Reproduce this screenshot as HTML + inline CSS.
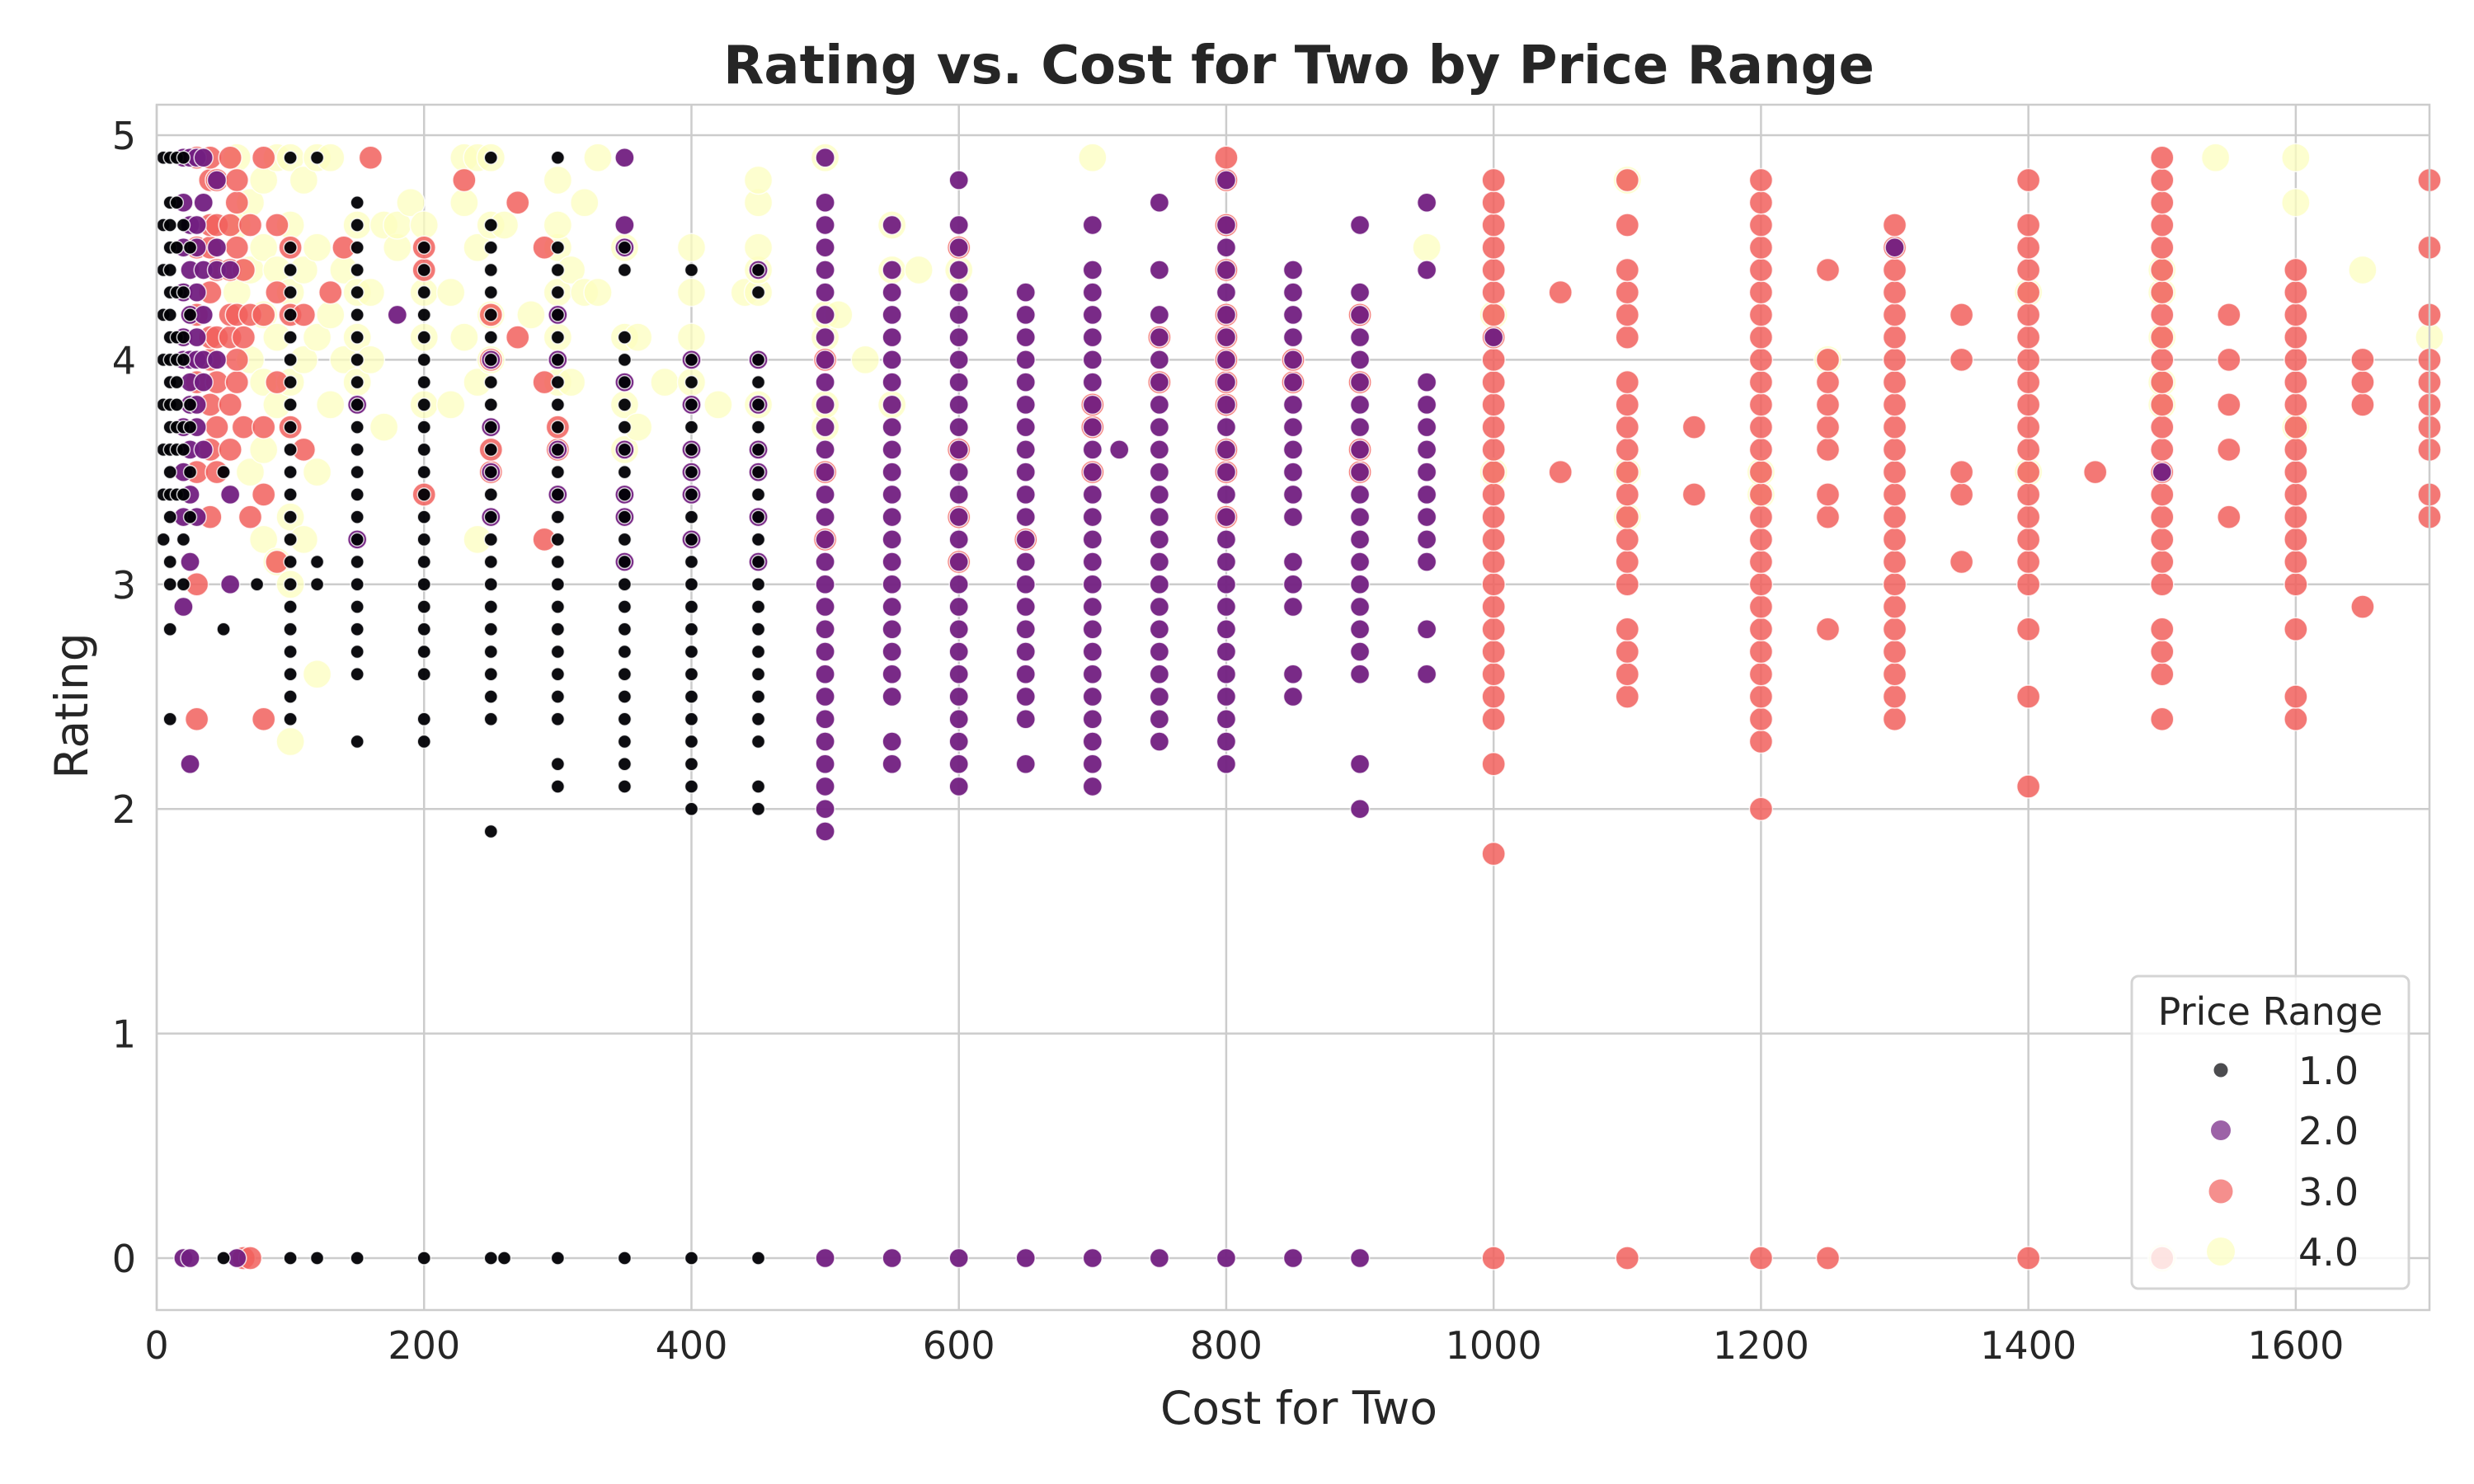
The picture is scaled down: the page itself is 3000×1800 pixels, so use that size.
<!DOCTYPE html>
<html><head><meta charset="utf-8">
<style>
html,body{margin:0;padding:0;background:#fff;}
svg{display:block;font-family:"DejaVu Sans","Liberation Sans",sans-serif;}
</style></head>
<body>
<svg id="chart" width="3000" height="1800" viewBox="0 0 3000 1800" xmlns="http://www.w3.org/2000/svg">
<rect width="3000" height="1800" fill="#fff"/>
<g id="grid"></g>
<g id="points"></g>
<rect x="190" y="127" width="2756" height="1462" fill="none" stroke="#cccccc" stroke-width="2.5"/>
<g id="ticks" font-size="46" fill="#262626"></g>
<text x="1575" y="101" text-anchor="middle" font-size="64" font-weight="bold" fill="#262626">Rating vs. Cost for Two by Price Range</text>
<text x="1575" y="1727" text-anchor="middle" font-size="55" fill="#262626">Cost for Two</text>
<text transform="translate(106,856) rotate(-90)" text-anchor="middle" font-size="55" fill="#262626">Rating</text>
<g>
<rect x="2585" y="1184" width="336" height="379" rx="8" fill="#ffffff" fill-opacity="0.8" stroke="#d4d4d4" stroke-width="3"/>
<text x="2753" y="1243" text-anchor="middle" font-size="46" fill="#262626">Price Range</text>
<g id="legend-entries"></g>
</g>
</svg>
<script>
// ---- data ----
const xTicks = [0,200,400,600,800,1000,1200,1400,1600];
const yTicks = [0,1,2,3,4,5];
const priceLabels = ["1.0","2.0","3.0","4.0"];
// columns: [cost, "ratings"]
const p1Data = [
 [5,"3.2,3.4,3.6,3.8,4.0,4.2,4.4,4.6,4.9"],[10,"2.4,2.8,3.0,3.1,3.3,3.4,3.5,3.6,3.7,3.8,3.9,4.0,4.1,4.2,4.3,4.4,4.5,4.6,4.7,4.9"],
 [15,"3.4,3.6,3.7,3.8,3.9,4.0,4.1,4.3,4.5,4.7,4.9"],[20,"3.0,3.2,3.4,3.6,3.7,4.0,4.1,4.3,4.6,4.9"],[25,"3.3,3.5,3.7,3.8,4.2,4.5"],
 [50,"2.8,3.5,0"],[75,"3.0"],
 [100,"0,2.4,2.5,2.6,2.7,2.8,2.9,3.0,3.1,3.2,3.3,3.4,3.5,3.6,3.7,3.8,3.9,4.0,4.1,4.2,4.3,4.4,4.5,4.9"],
 [120,"0,3.0,3.1,4.9"],
 [150,"0,2.3,2.6,2.7,2.8,2.9,3.0,3.1,3.2,3.3,3.4,3.5,3.6,3.7,3.8,3.9,4.0,4.1,4.2,4.3,4.4,4.5,4.6,4.7"],
 [200,"0,2.3,2.4,2.6,2.7,2.8,2.9,3.0,3.1,3.2,3.3,3.4,3.5,3.6,3.7,3.8,3.9,4.0,4.1,4.2,4.3,4.4,4.5"],
 [250,"0,1.9,2.4,2.5,2.6,2.7,2.8,2.9,3.0,3.1,3.2,3.3,3.4,3.5,3.6,3.7,3.8,3.9,4.0,4.1,4.2,4.3,4.4,4.5,4.6,4.9"],
 [260,"0"],
 [300,"0,2.1,2.2,2.4,2.5,2.6,2.7,2.8,2.9,3.0,3.1,3.2,3.3,3.4,3.5,3.6,3.7,3.8,3.9,4.0,4.1,4.2,4.3,4.4,4.5,4.9"],
 [350,"0,2.1,2.2,2.3,2.4,2.5,2.6,2.7,2.8,2.9,3.0,3.1,3.2,3.3,3.4,3.5,3.6,3.7,3.8,3.9,4.0,4.1,4.4,4.5"],
 [400,"0,2.0,2.1,2.2,2.3,2.4,2.5,2.6,2.7,2.8,2.9,3.0,3.1,3.2,3.3,3.4,3.5,3.6,3.7,3.8,3.9,4.0,4.4"],
 [450,"0,2.0,2.1,2.3,2.4,2.5,2.6,2.7,2.8,2.9,3.0,3.1,3.2,3.3,3.4,3.5,3.6,3.7,3.8,3.9,4.0,4.3,4.4"]
];
const p2Data = [
 [20,"0,2.9,3.3,3.5,3.7,4.0,4.1,4.3,4.5,4.7,4.9"],[25,"0,2.2,3.1,3.4,3.6,3.8,3.9,4.0,4.2,4.4,4.6,4.9"],[30,"3.3,3.7,3.8,4.0,4.1,4.3,4.5,4.6,4.9"],
 [35,"3.6,3.9,4.0,4.2,4.4,4.7,4.9"],[45,"4.0,4.4,4.5,4.8"],[55,"3.0,3.4,4.4"],[60,"0"],
 [150,"3.2,3.8"],[180,"4.2"],[250,"3.3,3.5,3.7,4.0"],[300,"3.4,3.6,4.0,4.2"],[350,"3.1,3.3,3.4,3.6,3.9,4.5,4.6,4.9"],[400,"3.2,3.4,3.5,3.6,3.8,4.0"],
 [450,"3.1,3.3,3.5,3.6,3.8,4.0,4.4"],
 [500,"0,1.9,2.0,2.1,2.2,2.3,2.4,2.5,2.6,2.7,2.8,2.9,3.0,3.1,3.2,3.3,3.4,3.5,3.6,3.7,3.8,3.9,4.0,4.1,4.2,4.3,4.4,4.5,4.6,4.7,4.9"],
 [550,"0,2.2,2.3,2.5,2.6,2.7,2.8,2.9,3.0,3.1,3.2,3.3,3.4,3.5,3.6,3.7,3.8,3.9,4.0,4.1,4.2,4.3,4.4,4.6"],
 [600,"0,2.1,2.2,2.3,2.4,2.5,2.6,2.7,2.8,2.9,3.0,3.1,3.2,3.3,3.4,3.5,3.6,3.7,3.8,3.9,4.0,4.1,4.2,4.3,4.4,4.5,4.6,4.8"],
 [650,"0,2.2,2.4,2.5,2.6,2.7,2.8,2.9,3.0,3.1,3.2,3.3,3.4,3.5,3.6,3.7,3.8,3.9,4.0,4.1,4.2,4.3"],
 [700,"0,2.1,2.2,2.3,2.4,2.5,2.6,2.7,2.8,2.9,3.0,3.1,3.2,3.3,3.4,3.5,3.6,3.7,3.8,3.9,4.0,4.1,4.2,4.3,4.4,4.6"],
 [720,"3.6"],
 [750,"0,2.3,2.4,2.5,2.6,2.7,2.8,2.9,3.0,3.1,3.2,3.3,3.4,3.5,3.6,3.7,3.8,3.9,4.0,4.1,4.2,4.4,4.7"],
 [800,"0,2.2,2.3,2.4,2.5,2.6,2.7,2.8,2.9,3.0,3.1,3.2,3.3,3.4,3.5,3.6,3.7,3.8,3.9,4.0,4.1,4.2,4.3,4.4,4.5,4.6,4.8"],
 [850,"0,2.5,2.6,2.9,3.0,3.1,3.3,3.4,3.5,3.6,3.7,3.8,3.9,4.0,4.1,4.2,4.3,4.4"],
 [900,"0,2.0,2.2,2.6,2.7,2.8,2.9,3.0,3.1,3.2,3.3,3.4,3.5,3.6,3.7,3.8,3.9,4.0,4.1,4.2,4.3,4.6"],
 [950,"2.6,2.8,3.1,3.2,3.3,3.4,3.5,3.6,3.7,3.8,3.9,4.4,4.7"],[1000,"4.1"],[1300,"4.5"],[1500,"3.5"]
];
const p3Data = [
 [30,"2.4,3.0,3.5,3.9,4.2,4.5,4.9"],[40,"3.3,3.6,3.8,4.0,4.1,4.3,4.5,4.6,4.8,4.9"],[45,"3.5,3.7,3.9,4.1,4.4,4.6,4.8"],
 [55,"3.6,3.8,4.1,4.2,4.4,4.6,4.9"],[60,"3.9,4.0,4.2,4.5,4.7,4.8"],[65,"0,3.7,4.1,4.4"],[70,"0,3.3,4.2,4.6"],
 [80,"2.4,3.4,3.7,4.2,4.9"],[90,"3.1,3.9,4.3,4.6"],[100,"3.7,4.2,4.5"],[110,"3.6,4.2"],[130,"4.3"],[140,"4.5"],
 [160,"4.9"],[200,"3.4,4.4,4.5"],[230,"4.8"],[250,"3.5,3.6,4.0,4.2"],[270,"4.1,4.7"],[290,"3.2,3.9,4.5"],[300,"3.6,3.7"],
 [500,"3.2,3.5,4.0"],[600,"3.1,3.3,3.6,4.5"],[650,"3.2"],[700,"3.5,3.7,3.8"],[750,"3.9,4.1"],
 [800,"3.3,3.5,3.6,3.8,3.9,4.0,4.1,4.2,4.4,4.6,4.8,4.9"],[850,"3.9,4.0"],[900,"3.5,3.6,3.9,4.2"],
 [1000,"0,1.8,2.2,2.4,2.5,2.6,2.7,2.8,2.9,3.0,3.1,3.2,3.3,3.4,3.5,3.6,3.7,3.8,3.9,4.0,4.1,4.2,4.3,4.4,4.5,4.6,4.7,4.8"],
 [1050,"3.5,4.3"],
 [1100,"0,2.5,2.6,2.7,2.8,3.0,3.1,3.2,3.3,3.4,3.5,3.6,3.7,3.8,3.9,4.1,4.2,4.3,4.4,4.6,4.8"],
 [1150,"3.4,3.7"],
 [1200,"0,2.0,2.3,2.4,2.5,2.6,2.7,2.8,2.9,3.0,3.1,3.2,3.3,3.4,3.5,3.6,3.7,3.8,3.9,4.0,4.1,4.2,4.3,4.4,4.5,4.6,4.7,4.8"],
 [1250,"0,2.8,3.3,3.4,3.6,3.7,3.8,3.9,4.0,4.4"],
 [1300,"2.4,2.5,2.6,2.7,2.8,2.9,3.0,3.1,3.2,3.3,3.4,3.5,3.6,3.7,3.8,3.9,4.0,4.1,4.2,4.3,4.4,4.5,4.6"],
 [1350,"3.1,3.4,3.5,4.0,4.2"],
 [1400,"0,2.1,2.5,2.8,3.0,3.1,3.2,3.3,3.4,3.5,3.6,3.7,3.8,3.9,4.0,4.1,4.2,4.3,4.4,4.5,4.6,4.8"],
 [1450,"3.5"],
 [1500,"0,2.4,2.6,2.7,2.8,3.0,3.1,3.2,3.3,3.4,3.5,3.6,3.7,3.8,3.9,4.0,4.1,4.2,4.3,4.4,4.5,4.6,4.7,4.8,4.9"],
 [1550,"3.3,3.6,3.8,4.0,4.2"],
 [1600,"2.4,2.5,2.8,3.0,3.1,3.2,3.3,3.4,3.5,3.6,3.7,3.8,3.9,4.0,4.1,4.2,4.3,4.4"],
 [1650,"2.9,3.8,3.9,4.0"],
 [1700,"3.3,3.4,3.6,3.7,3.8,3.9,4.0,4.2,4.5,4.8"]
];
const p4Data = [
 [60,"4.3,4.6,4.9"],[70,"3.5,4.0,4.4,4.7"],[80,"3.2,3.6,3.9,4.2,4.5,4.8"],[90,"3.1,3.8,4.1,4.4,4.9"],[100,"2.3,3.0,3.3,3.9,4.3,4.6,4.9"],
 [110,"3.2,4.0,4.4,4.8"],[120,"2.6,3.5,4.1,4.5,4.9"],[130,"3.8,4.2,4.9"],[140,"4.0,4.4"],[150,"3.9,4.1,4.3,4.6"],
 [160,"4.0,4.3"],[170,"3.7,4.6"],[180,"4.5,4.6"],[190,"4.7"],[200,"3.8,4.1,4.3,4.6"],[220,"3.8,4.3"],[230,"4.1,4.7,4.9"],
 [240,"3.2,3.9,4.5,4.9"],[250,"4.0,4.2,4.6,4.9"],[260,"4.6"],[280,"4.2"],[300,"3.9,4.1,4.3,4.5,4.6,4.8"],
 [310,"3.9,4.4"],[320,"4.3,4.7"],[330,"4.3,4.9"],[350,"3.6,3.8,4.1,4.5"],[360,"3.7,4.1"],[380,"3.9"],[400,"3.9,4.1,4.3,4.5"],
 [420,"3.8"],[440,"4.3"],[450,"3.8,4.3,4.4,4.5,4.7,4.8"],[500,"3.7,3.8,4.1,4.2,4.9"],[510,"4.2"],[530,"4.0"],[550,"3.8,4.4,4.6"],
 [570,"4.4"],[600,"4.4"],[700,"4.9"],[950,"4.5"],[1000,"3.5,4.2"],[1100,"3.3,3.5,4.8"],[1200,"3.4,3.5"],[1250,"4.0"],
 [1400,"3.5,4.3"],[1500,"0,3.8,3.9,4.1,4.3,4.4"],[1540,"4.9"],[1600,"3.7,4.7,4.9"],[1650,"4.4"],[1700,"4.1"]
];
// ---- scales ----
const X0=190, X1=2946, XMAX=1700, Y0=1526, YU=272.4;
function xs(v){return X0+(v/XMAX)*(X1-X0);}
function ys(v){return Y0-v*YU;}
const NS="http://www.w3.org/2000/svg";
const grid=document.getElementById('grid'), ticks=document.getElementById('ticks'), pts=document.getElementById('points');
xTicks.forEach(t=>{
  const l=document.createElementNS(NS,'line');
  
  
  l.setAttribute('x1',xs(t));l.setAttribute('x2',xs(t));l.setAttribute('y1',127);l.setAttribute('y2',1589);
  l.setAttribute('stroke','#cccccc');l.setAttribute('stroke-width','2.5');grid.appendChild(l);
  const tx=document.createElementNS(NS,'text');
  
  
  tx.setAttribute('x',xs(t));tx.setAttribute('y',1648);tx.setAttribute('text-anchor','middle');tx.textContent=t;ticks.appendChild(tx);
});
yTicks.forEach(t=>{
  const l=document.createElementNS(NS,'line');
  
  
  l.setAttribute('x1',190);l.setAttribute('x2',2946);l.setAttribute('y1',ys(t));l.setAttribute('y2',ys(t));
  l.setAttribute('stroke','#cccccc');l.setAttribute('stroke-width','2.5');grid.appendChild(l);
  const tx=document.createElementNS(NS,'text');
  
  
  tx.setAttribute('x',165);tx.setAttribute('y',ys(t)+17);tx.setAttribute('text-anchor','end');tx.textContent=t;ticks.appendChild(tx);
});
const styles=[
 {c:"#000004",r:8,o:0.95},
 {c:"#721f81",r:11.5,o:0.95},
 {c:"#f1605d",r:14,o:0.85},
 {c:"#fcfdbf",r:17,o:0.75}
];
function drawSeries(data,s,name){
  data.forEach(col=>{
    col[1].split(',').forEach(v=>{
      const c=document.createElementNS(NS,'circle');
      
      
      c.setAttribute('cx',xs(col[0]));c.setAttribute('cy',ys(parseFloat(v)));c.setAttribute('r',s.r);
      c.setAttribute('fill',s.c);c.setAttribute('fill-opacity',s.o);
      c.setAttribute('stroke','#ffffff');c.setAttribute('stroke-width','1.5');c.setAttribute('stroke-opacity','0.8');
      pts.appendChild(c);
    });
  });
}
drawSeries(p4Data,styles[3],'point-price-4');
drawSeries(p3Data,styles[2],'point-price-3');
drawSeries(p2Data,styles[1],'point-price-2');
drawSeries(p1Data,styles[0],'point-price-1');
const le=document.getElementById('legend-entries');
const legendY=[1298,1371,1445,1518];
priceLabels.forEach((lab,i)=>{
  const c=document.createElementNS(NS,'circle');
  
  
  c.setAttribute('cx',2693);c.setAttribute('cy',legendY[i]);c.setAttribute('r',[8.5,12,14.5,17][i]);
  c.setAttribute('fill',styles[i].c);c.setAttribute('fill-opacity',0.7);le.appendChild(c);
  const t=document.createElementNS(NS,'text');
  
  
  t.setAttribute('x',2787);t.setAttribute('y',legendY[i]+17);t.setAttribute('font-size','46');t.setAttribute('fill','#262626');
  t.textContent=lab;le.appendChild(t);
});
</script>
</body></html>
